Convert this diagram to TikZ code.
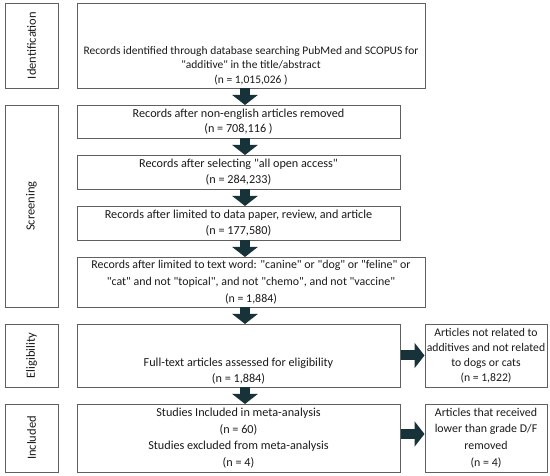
\documentclass[tikz,border=0pt]{standalone}
\usepackage{fontspec}
\setmainfont{Carlito}
\usetikzlibrary{arrows.meta}
\newcommand\qt[1]{\textquotedbl#1\textquotedbl}
\definecolor{boxgray}{HTML}{606060}
\definecolor{arrowdark}{HTML}{18323A}
\definecolor{txt}{HTML}{1A1A1A}
\begin{document}
\begin{tikzpicture}[x=1pt,y=-1pt,
  box/.style={draw=boxgray,line width=0.9pt,inner sep=0pt,outer sep=0pt,align=center,text=txt,
    font=\fontsize{12.2}{16.7}\selectfont},
  side/.style={box,minimum width=53pt},
  sidetext/.style={text=txt,font=\fontsize{12.5}{13}\selectfont,rotate=90},
  txtnode/.style={align=center,text=txt,inner sep=0pt},
  bigarrow/.style={draw=arrowdark,line width=10pt,line cap=butt,
    -{Triangle[width=25pt,length=10pt,fill=arrowdark]}}
]
\useasboundingbox (0,0) rectangle (550,476);
% stage labels
\node[side,minimum height=85pt] (L1) at (31.5,45.5) {};
\node[sidetext] at (L1) {Identification};
\node[side,minimum height=202pt] (L2) at (31.5,206) {};
\node[sidetext] at (L2) {Screening};
\node[side,minimum height=63pt] (L3) at (31.5,355.5) {};
\node[sidetext] at (L3) {Eligibility};
\node[side,minimum height=68pt] (L4) at (31.5,438) {};
\node[sidetext] at (L4) {Included};
% main boxes
\node[box,minimum width=348pt,minimum height=85pt] (b1) at (251,45.5) {};
\node[txtnode,font=\fontsize{11.5}{14.5}\selectfont] (t1) at (251,65.5)
  {Records identified through database searching PubMed and SCOPUS for\\
   \qt{additive} in the title/abstract\\ (n = 1,015,026 )};
\node[box,minimum width=323pt,minimum height=33pt,font=\fontsize{12.2}{15}\selectfont] (b2) at (238.5,121.5)
  {Records after non-english articles removed\\(n = 708,116 )};
\node[box,minimum width=323pt,minimum height=34pt] (b3) at (238.5,172)
  {Records after selecting \qt{all open access}\\(n = 284,233)};
\node[box,minimum width=323pt,minimum height=34pt] (b4) at (238.5,223)
  {Records after limited to data paper, review, and article\\(n = 177,580)};
\node[box,minimum width=348pt,minimum height=50pt,font=\fontsize{11.9}{16.7}\selectfont] (b5) at (251,282)
  {Records after limited to text word: \qt{canine} or \qt{dog} or \qt{feline} or\\
   \qt{cat} and not \qt{topical}, and not \qt{chemo}, and not \qt{vaccine}\\(n = 1,884)};
\node[box,minimum width=323pt,minimum height=63pt] (b6) at (238.5,355.5) {};
\node[txtnode,font=\fontsize{12.2}{16}\selectfont] (t6) at (238.5,371)
  {Full-text articles assessed for eligibility\\(n = 1,884)};
\node[box,minimum width=323pt,minimum height=68pt] (b7) at (238.5,438)
  {Studies Included in meta-analysis\\(n = 60)\\Studies excluded from meta-analysis\\(n = 4)};
% side boxes
\node[box,minimum width=122pt,minimum height=63pt,font=\fontsize{11.7}{15}\selectfont] (s1) at (486,355.5)
  {Articles not related to\\additives and not related\\to dogs or cats\\(n = 1,822)};
\node[box,minimum width=122pt,minimum height=68pt,font=\fontsize{11.9}{16.7}\selectfont] (s2) at (486,438)
  {Articles that received\\lower than grade D/F\\removed\\(n = 4)};
% arrows
\coordinate (ax) at (245,0);
\draw[bigarrow] (b1.south -| ax) -- (b2.north -| ax);
\draw[bigarrow] (b2.south -| ax) -- (b3.north -| ax);
\draw[bigarrow] (b3.south -| ax) -- (b4.north -| ax);
\draw[bigarrow] (b4.south -| ax) -- (b5.north -| ax);
\draw[bigarrow] (b5.south -| ax) -- (b6.north -| ax);
\draw[bigarrow] (b6.south -| ax) -- (b7.north -| ax);
\draw[bigarrow] ([xshift=0.5pt]b6.east) -- ([xshift=-0.5pt]s1.west);
\draw[bigarrow] ([xshift=0.5pt,yshift=4pt]b7.east) -- ([xshift=-0.5pt,yshift=4pt]b7.east -| s2.west);
\end{tikzpicture}
\end{document}
